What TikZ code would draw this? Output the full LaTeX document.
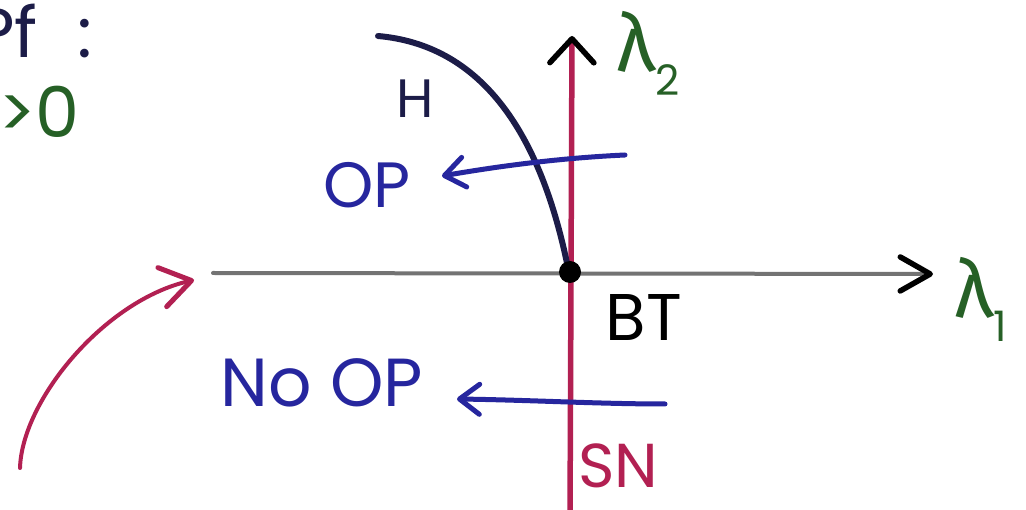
\documentclass[tikz,border=0pt]{standalone}
\usepackage{fontspec}
\setmainfont{Poppins}
\newfontfamily\lamfont{Fira Sans}
\usetikzlibrary{arrows.meta}

\definecolor{axisgray}{RGB}{115,115,115}
\definecolor{snred}{RGB}{178,32,82}
\definecolor{opblue}{RGB}{38,38,158}
\definecolor{hnavy}{RGB}{28,28,72}
\definecolor{lamgreen}{RGB}{38,96,38}

\newcommand{\lamlabel}[1]{{\lamfont λ}\raisebox{-0.3em}{\fontsize{42}{44}\selectfont #1}}

\begin{document}
\begin{tikzpicture}[
		x=1pt,
		y=-1pt,
		line cap=round,
		line join=round,
		axistip/.style={-{Straight Barb[color=black,length=30pt,width=34pt,line width=5.5pt,round]}},
		vtip/.style={-{Straight Barb[color=black,length=24pt,width=44pt,line width=5.5pt,round]}},
		pentip/.style={-{Straight Barb[length=20pt,width=30pt,line width=5pt,round]}},
		redtip/.style={-{Straight Barb[length=30pt,width=40pt,line width=5pt,round]}},
		lab/.style={inner sep=0pt}
		]
		
		%------------------------------------------------------------------
		% Frame
		%------------------------------------------------------------------
		\useasboundingbox (0,0) rectangle (1026,510);
		\clip (0,0) rectangle (1026,510);
		\fill[white] (0,0) rectangle (1026,510);
		
		%------------------------------------------------------------------
		% Coordinates
		%------------------------------------------------------------------
		\coordinate (hL)   at (213,273);
		\coordinate (hR)   at (933,274);
		\coordinate (vB)   at (570,520);
		\coordinate (vT)   at (572,36);
		\coordinate (BTpt) at (570,272);
		
		\coordinate (hS)   at (378,36);
		\coordinate (hE)   at (568,268);
		
		\coordinate (opS)  at (625,155);
		\coordinate (opT)  at (442,176);
		\coordinate (noS)  at (665,404);
		\coordinate (noT)  at (457,399);
		
		\coordinate (redS) at (20,468);
		\coordinate (redT) at (194,280);
		
		%------------------------------------------------------------------
		% Axes
		%------------------------------------------------------------------
		\draw[axisgray, line width=4pt, axistip] (hL) -- (hR);
		\draw[snred, line width=5.5pt, vtip] (vB) -- (vT);
		
		%------------------------------------------------------------------
		% H curve and BT point
		%------------------------------------------------------------------
		\draw[hnavy, line width=6pt] (hS) .. controls (480,45) and (540,130) .. (hE);
		\fill[black] (BTpt) circle (11);
		
		%------------------------------------------------------------------
		% OP / No OP arrows
		%------------------------------------------------------------------
		\draw[opblue, line width=5pt, pentip] (opS) .. controls (560,158) and (500,166) .. (opT);
		\draw[opblue, line width=5pt, pentip] (noS) .. controls (600,404) and (530,400) .. (noT);
		
		% red arrow from the lower left
		\draw[snred, line width=4pt, redtip] (redS) .. controls (22,400) and (105,300) .. (redT);
		
		%------------------------------------------------------------------
		% Labels
		%------------------------------------------------------------------
		\node[lab, text=lamgreen, font=\fontsize{80}{82}\selectfont, anchor=base west] (lamTwo) at (616,72) {\lamlabel{2}};
		\node[lab, text=lamgreen, font=\fontsize{80}{82}\selectfont, anchor=base west] (lamOne) at (954,318) {\lamlabel{1}};
		
		\node[lab, text=hnavy, font=\fontsize{54}{56}\selectfont] (labH) at (415,99) {H};
		\node[lab, text=opblue, font=\fontsize{64}{66}\selectfont] (labOP) at (367,185) {OP};
		\node[lab, text=opblue, font=\fontsize{68}{70}\selectfont] (labNoOP) at (322,383) {No OP};
		\node[lab, text=black, font=\fontsize{66}{68}\selectfont] (labBT) at (644,318) {BT};
		\node[lab, text=snred, font=\fontsize{62}{64}\selectfont] (labSN) at (618,466) {SN};
		
		\node[lab, text=hnavy, font=\fontsize{70}{72}\selectfont, anchor=base west] (pfText) at (-26,58) {Pf\hspace{40pt}:};
		\node[lab, text=lamgreen, font=\fontsize{70}{72}\selectfont, anchor=base west] (gtText) at (-2,138) {>0};
		
	\end{tikzpicture}
\end{document}
